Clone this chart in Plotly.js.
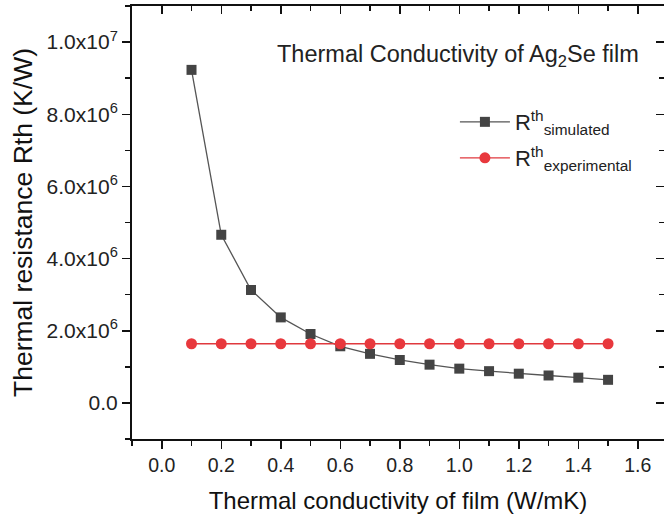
<!DOCTYPE html>
<html><head><meta charset="utf-8">
<script src="https://cdn.plot.ly/plotly-3.0.1.min.js"></script>
<style>html,body{margin:0;padding:0;overflow:hidden;background:#fff}</style>
</head><body><div id="chart"></div>
<script>
const conductivity = [0.1,0.2,0.3,0.4,0.5,0.6,0.7,0.8,0.9,1.0,1.1,1.2,1.3,1.4,1.5];
const simulated = [9.23e6,4.66e6,3.13e6,2.37e6,1.91e6,1.57e6,1.36e6,1.19e6,1.06e6,0.95e6,0.88e6,0.81e6,0.76e6,0.70e6,0.64e6];
const experimental = [1.64e6,1.64e6,1.64e6,1.64e6,1.64e6,1.64e6,1.64e6,1.64e6,1.64e6,1.64e6,1.64e6,1.64e6,1.64e6,1.64e6,1.64e6];
const yTickVals = [0,2e6,4e6,6e6,8e6,1e7];
const yTickText = ['0.0','2.0x10<sup>6</sup>','4.0x10<sup>6</sup>','6.0x10<sup>6</sup>','8.0x10<sup>6</sup>','1.0x10<sup>7</sup>'];
const xTickVals = [0,0.2,0.4,0.6,0.8,1.0,1.2,1.4,1.6];
const xTickText = ['0.0','0.2','0.4','0.6','0.8','1.0','1.2','1.4','1.6'];

const font = 'Arial, "Liberation Sans", sans-serif';
const traces = [
  {x: conductivity, y: simulated, type:'scatter', mode:'lines+markers', legend:'legend',
   name:'R<sup>th</sup><sub>simulated</sub>',
   line:{color:'#555555', width:1.3}, marker:{symbol:'square', size:10, color:'#444444'}},
  {x: conductivity, y: experimental, type:'scatter', mode:'lines+markers', legend:'legend2',
   name:'R<sup>th</sup><sub>experimental</sub>',
   line:{color:'#e0393e', width:1.3}, marker:{symbol:'circle', size:11, color:'#e8383d'}},
  {x: [], y: [], xaxis:'x2', yaxis:'y2', showlegend:false, hoverinfo:'skip', type:'scatter'}
];
const xr = [-0.1, 1.688], yr = [-1e6, 1.1e7];
const legFont = {size:22, family:font, color:'#222'};
const layout = {
  width: 664, height: 520,
  margin:{l:132, r:0, t:6, b:81},
  paper_bgcolor:'#fff', plot_bgcolor:'#fff',
  font:{family:font, color:'#222', size:19},
  showlegend:true,
  legend:{x:0.607, y:0.732, xanchor:'left', yanchor:'middle', bgcolor:'rgba(0,0,0,0)', font:legFont, itemwidth:50},
  legend2:{x:0.607, y:0.649, xanchor:'left', yanchor:'middle', bgcolor:'rgba(0,0,0,0)', font:legFont, itemwidth:50},
  xaxis:{range:xr, tickvals:xTickVals, ticktext:xTickText, ticks:'outside', ticklen:8, tickwidth:1.5,
         tickcolor:'#111', showline:true, linecolor:'#111', linewidth:2, showgrid:false, zeroline:false,
         tickfont:{size:19.5, family:font, color:'#222'},
         minor:{dtick:0.1, tick0:-0.1, ticks:'outside', ticklen:5, tickwidth:1.5, tickcolor:'#111', showgrid:false},
         title:{text:'Thermal conductivity of film (W/mK)', font:{size:24, family:font, color:'#111'}, standoff:17}},
  yaxis:{range:yr, tickvals:yTickVals, ticktext:yTickText, ticks:'outside', ticklen:8, tickwidth:1.5,
         tickcolor:'#111', showline:true, linecolor:'#111', linewidth:2, showgrid:false, zeroline:false,
         tickfont:{size:21, family:font, color:'#222'},
         minor:{dtick:1e6, tick0:-1e6, ticks:'outside', ticklen:5, tickwidth:1.5, tickcolor:'#111', showgrid:false},
         title:{text:'Thermal resistance Rth (K/W)', font:{size:26.5, family:font, color:'#111'}, standoff:6}},
  xaxis2:{range:xr, overlaying:'x', side:'top', anchor:'y2', tickvals:xTickVals, showticklabels:false,
          ticks:'inside', ticklen:8, tickwidth:1.5, tickcolor:'#111', showline:true, linecolor:'#111', linewidth:2,
          showgrid:false, zeroline:false,
          minor:{dtick:0.1, tick0:-0.1, ticks:'inside', ticklen:5, tickwidth:1.5, tickcolor:'#111', showgrid:false}},
  yaxis2:{range:yr, overlaying:'y', side:'right', anchor:'x2', tickvals:yTickVals, showticklabels:false,
          ticks:'inside', ticklen:8, tickwidth:1.5, tickcolor:'#111', showline:false,
          showgrid:false, zeroline:false,
          minor:{dtick:1e6, tick0:-1e6, ticks:'inside', ticklen:5, tickwidth:1.5, tickcolor:'#111', showgrid:false}},
  annotations:[{text:'Thermal Conductivity of Ag<sub>2</sub>Se film', xref:'paper', yref:'paper',
                x:0.269, y:0.885, xanchor:'left', yanchor:'middle', showarrow:false,
                font:{size:23.5, family:font, color:'#222'}}]
};
Plotly.newPlot('chart', traces, layout, {displayModeBar:false, staticPlot:true});
</script></body></html>
